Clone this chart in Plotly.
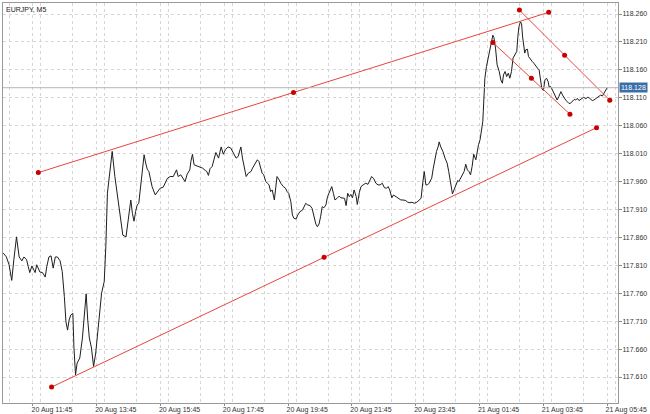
import pandas as pd
import plotly.graph_objects as go

SYMBOL = "EURJPY, M5"
LAST_PRICE = 118.128

# 20 Aug (M5 close readings)
times_aug20 = [
    "10:49", "10:55", "11:00", "11:05", "11:09", "11:14", "11:19", "11:24", "11:28", "11:33",
    "11:36", "11:39", "11:43", "11:46", "11:49", "11:52", "11:55", "11:58", "12:03", "12:08",
    "12:11", "12:15", "12:19", "12:23", "12:27", "12:31", "12:36", "12:40", "12:44", "12:47",
    "12:50", "12:53", "12:56", "13:00", "13:02", "13:05", "13:08", "13:13", "13:18", "13:25",
    "13:28", "13:31", "13:35", "13:39", "13:43", "13:48", "13:54", "13:59", "14:02", "14:05",
    "14:10", "14:14", "14:19", "14:24", "14:29", "14:34", "14:40", "14:46", "14:49", "14:52",
    "14:55", "14:58", "15:01", "15:04", "15:08", "15:11", "15:14", "15:17", "15:20", "15:23",
    "15:26", "15:29", "15:35", "15:39", "15:44", "15:50", "15:53", "15:58", "16:03", "16:09",
    "16:15", "16:18", "16:23", "16:27", "16:31", "16:35", "16:40", "16:42", "16:45", "16:48",
    "16:53", "16:59", "17:04", "17:09", "17:12", "17:15", "17:18", "17:22", "17:25", "17:29",
    "17:34", "17:39", "17:43", "17:47", "17:52", "17:57", "18:02", "18:07", "18:11", "18:16",
    "18:19", "18:23", "18:26", "18:30", "18:35", "18:38", "18:43", "18:47", "18:50", "18:53",
    "18:56", "18:59", "19:03", "19:06", "19:09", "19:12", "19:15", "19:19", "19:21", "19:24",
    "19:28", "19:31", "19:36", "19:40", "19:43", "19:46", "19:50", "19:53", "19:56", "20:00",
    "20:03", "20:07", "20:12", "20:15", "20:18", "20:22", "20:26", "20:30", "20:34", "20:37",
    "20:40", "20:43", "20:46", "20:49", "20:52", "20:56", "20:59", "21:04", "21:07", "21:10",
    "21:13", "21:17", "21:21", "21:24", "21:27", "21:31", "21:34", "21:37", "21:40", "21:43",
    "21:46", "21:49", "21:53", "21:55", "21:59", "22:02", "22:06", "22:11", "22:15", "22:18",
    "22:22", "22:26", "22:30", "22:34", "22:38", "22:42", "22:46", "22:50", "22:53", "22:56",
    "23:00", "23:03", "23:07", "23:12", "23:17", "23:21", "23:26", "23:30", "23:34", "23:38",
    "23:42", "23:47", "23:51", "23:55", "23:58",
]
close_aug20 = [
    117.832, 117.825, 117.811, 117.783, 117.820, 117.861, 117.825, 117.818, 117.825, 117.820,
    117.808, 117.797, 117.809, 117.802, 117.797, 117.811, 117.805, 117.798, 117.797, 117.789,
    117.808, 117.825, 117.827, 117.805, 117.825, 117.825, 117.818, 117.799, 117.754, 117.709,
    117.694, 117.712, 117.721, 117.724, 117.664, 117.614, 117.635, 117.644, 117.680, 117.759,
    117.712, 117.680, 117.662, 117.629, 117.653, 117.700, 117.760, 117.781, 117.843, 117.939,
    117.975, 118.014, 117.969, 117.933, 117.891, 117.864, 117.861, 117.909, 117.927, 117.903,
    117.889, 117.906, 117.918, 117.921, 117.957, 117.984, 118.008, 117.993, 117.982, 117.978,
    117.966, 117.951, 117.936, 117.942, 117.948, 117.950, 117.957, 117.966, 117.969, 117.969,
    117.981, 117.969, 117.972, 117.966, 117.960, 117.973, 117.981, 117.996, 118.009, 117.990,
    117.988, 117.987, 117.984, 117.980, 117.978, 117.971, 117.983, 117.987, 117.996, 118.012,
    118.002, 118.022, 118.009, 118.017, 118.022, 118.020, 118.011, 118.002, 118.005, 118.022,
    118.002, 117.981, 117.969, 117.975, 117.978, 117.984, 117.993, 117.999, 117.996, 117.984,
    117.975, 117.972, 117.960, 117.957, 117.954, 117.942, 117.945, 117.927, 117.948, 117.969,
    117.963, 117.957, 117.951, 117.948, 117.942, 117.939, 117.924, 117.900, 117.894, 117.893,
    117.900, 117.906, 117.909, 117.915, 117.921, 117.918, 117.917, 117.912, 117.897, 117.884,
    117.879, 117.884, 117.897, 117.915, 117.913, 117.918, 117.933, 117.945, 117.951, 117.939,
    117.927, 117.930, 117.934, 117.931, 117.930, 117.930, 117.917, 117.939, 117.933, 117.937,
    117.931, 117.945, 117.933, 117.919, 117.941, 117.951, 117.954, 117.957, 117.955, 117.961,
    117.969, 117.965, 117.957, 117.954, 117.954, 117.957, 117.949, 117.948, 117.951, 117.945,
    117.931, 117.936, 117.933, 117.930, 117.927, 117.927, 117.926, 117.923, 117.922, 117.923,
    117.921, 117.923, 117.927, 117.930, 117.957,
]

# 21 Aug
times_aug21 = [
    "00:01", "00:04", "00:07", "00:10", "00:15", "00:18", "00:21", "00:24", "00:27", "00:29",
    "00:32", "00:36", "00:40", "00:44", "00:47", "00:51", "00:54", "00:57", "01:01", "01:04",
    "01:06", "01:09", "01:12", "01:16", "01:19", "01:22", "01:25", "01:28", "01:31", "01:34",
    "01:38", "01:40", "01:43", "01:46", "01:49", "01:51", "01:52", "01:54", "01:55", "01:58",
    "02:01", "02:05", "02:08", "02:10", "02:12", "02:15", "02:18", "02:22", "02:25", "02:28",
    "02:30", "02:33", "02:36", "02:39", "02:42", "02:45", "02:48", "02:52", "02:55", "02:57",
    "02:59", "03:02", "03:04", "03:06", "03:09", "03:10", "03:12", "03:15", "03:17", "03:19",
    "03:21", "03:24", "03:27", "03:31", "03:34", "03:37", "03:39", "03:42", "03:45", "03:48",
    "03:51", "03:54", "03:56", "03:59", "04:02", "04:05", "04:08", "04:11", "04:14", "04:18",
    "04:21", "04:24", "04:27", "04:30", "04:33", "04:36", "04:39", "04:43", "04:46", "04:49",
    "04:52", "04:55", "04:58", "05:01", "05:05", "05:08", "05:11", "05:14", "05:17", "05:20",
    "05:23", "05:26", "05:30", "05:33", "05:36", "05:39", "05:43", "05:45",
]
close_aug21 = [
    117.978, 117.954, 117.954, 117.957, 117.966, 117.984, 118.002, 118.014, 118.022, 118.031,
    118.022, 118.014, 118.002, 117.993, 117.978, 117.954, 117.938, 117.945, 117.954, 117.962,
    117.960, 117.966, 117.972, 117.978, 117.991, 117.981, 117.978, 117.972, 117.987, 118.009,
    117.999, 118.014, 118.026, 118.035, 118.055, 118.067, 118.085, 118.115, 118.145, 118.166,
    118.181, 118.199, 118.219, 118.222, 118.218, 118.199, 118.169, 118.157, 118.142, 118.136,
    118.151, 118.157, 118.148, 118.154, 118.145, 118.157, 118.181, 118.187, 118.193, 118.219,
    118.237, 118.246, 118.243, 118.219, 118.199, 118.190, 118.196, 118.197, 118.184, 118.181,
    118.178, 118.175, 118.172, 118.166, 118.163, 118.160, 118.142, 118.127, 118.123, 118.142,
    118.145, 118.139, 118.129, 118.130, 118.124, 118.118, 118.109, 118.106, 118.112, 118.121,
    118.115, 118.109, 118.106, 118.103, 118.100, 118.100, 118.103, 118.107, 118.106, 118.109,
    118.105, 118.107, 118.110, 118.111, 118.108, 118.111, 118.110, 118.107, 118.105, 118.106,
    118.108, 118.110, 118.113, 118.115, 118.113, 118.118, 118.127, 118.128,
]

# trend lines drawn on the chart: (start time, start price, end time, end price)
trend_lines = [
    ("2020-08-20 11:55", 117.976, "2020-08-21 03:55", 118.263),
    ("2020-08-20 12:20", 117.592, "2020-08-21 05:25", 118.0565),
    ("2020-08-21 03:00", 118.267, "2020-08-21 05:50", 118.1055),
    ("2020-08-21 02:10", 118.209, "2020-08-21 04:35", 118.0805),
]

assert len(times_aug20) == len(close_aug20)
assert len(times_aug21) == len(close_aug21)

df = pd.DataFrame({
    "time": pd.to_datetime(["2020-08-20 " + t for t in times_aug20]
                           + ["2020-08-21 " + t for t in times_aug21]),
    "close": close_aug20 + close_aug21,
})

FONT = "Liberation Sans, Arial, sans-serif"
GRID = "#d6d6d6"
RED = "#e5473f"
DOT = "#c80000"

fig = go.Figure()

fig.add_trace(go.Scatter(
    x=df["time"], y=df["close"], mode="lines",
    line=dict(color="#1e1e1e", width=1), hoverinfo="skip",
))

for t0, p0, t1, p1 in trend_lines:
    a, b = pd.Timestamp(t0), pd.Timestamp(t1)
    mid = a + (b - a) / 2
    fig.add_trace(go.Scatter(
        x=[a, mid, b], y=[p0, (p0 + p1) / 2, p1], mode="lines+markers",
        line=dict(color=RED, width=1),
        marker=dict(color=DOT, size=5),
        hoverinfo="skip",
    ))

# current price line
fig.add_hline(y=LAST_PRICE, line=dict(color="#b4b4b4", width=1))

fig.add_annotation(
    x=1, xref="paper", y=LAST_PRICE, yref="y", xanchor="left", yanchor="middle",
    text=f"{LAST_PRICE:.3f}", showarrow=False, bgcolor="#3a6ea8",
    font=dict(color="white", size=7, family=FONT), borderpad=1, xshift=1,
)
fig.add_annotation(
    x=0, xref="paper", y=1, yref="paper", xanchor="left", yanchor="top",
    text=SYMBOL, showarrow=False, font=dict(color="#222", size=7, family=FONT),
    xshift=1, yshift=-1,
)

fig.update_layout(
    width=650, height=414,
    margin=dict(l=3, r=32, t=3, b=11),
    paper_bgcolor="white", plot_bgcolor="white",
    showlegend=False,
    font=dict(family=FONT, size=7, color="#333"),
)
fig.update_xaxes(
    type="date",
    range=["2020-08-20 10:48:36", "2020-08-21 06:05:24"],
    tick0="2020-08-20 11:45", dtick=2 * 3600 * 1000,
    tickformat="%d %b %H:%M", ticklabelshift=19, ticklabelstandoff=-2,
    ticklabeloverflow="allow",
    ticks="outside", ticklen=2, tickcolor="#888",
    showgrid=True, gridcolor=GRID, griddash="dot",
    minor=dict(dtick=3600 * 1000, showgrid=True, gridcolor=GRID, griddash="dot"),
    showline=True, linecolor="#999", mirror=True,
    automargin=False, zeroline=False,
)
fig.update_yaxes(
    side="right",
    range=[117.5635, 118.2797],
    tick0=117.61, dtick=0.05, tickformat=".3f",
    ticks="outside", ticklen=3, tickcolor="#888", ticklabelstandoff=-1,
    showgrid=True, gridcolor=GRID, griddash="dot",
    showline=True, linecolor="#999", mirror=True,
    automargin=False, zeroline=False,
)

fig.write_html(
    "out.html",
    config={"displayModeBar": False},
    post_script="document.body.style.margin='0';document.body.style.overflow='hidden';",
)
